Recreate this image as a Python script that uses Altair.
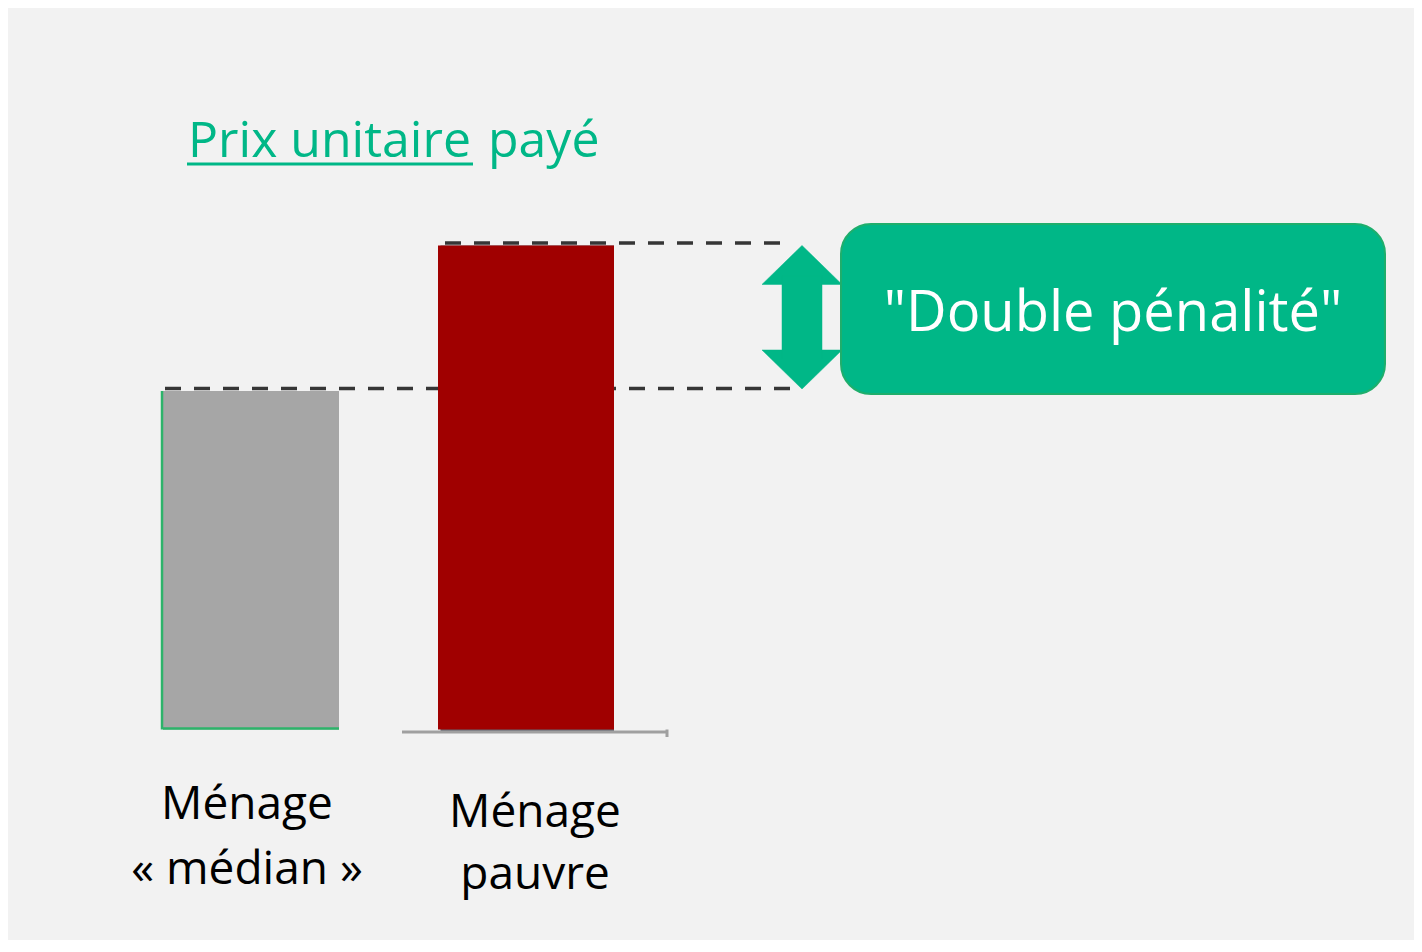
import altair as alt
import pandas as pd

# ---------------- data ----------------
categories = ["Ménage « médian »", "Ménage pauvre"]
values = [100, 143]
bar_colors = ["#a6a6a6", "#a00000"]
label_line1 = ["Ménage", "Ménage"]
label_line2 = ["« médian »", "pauvre"]
title_parts = ["Prix unitaire", "payé"]
callout_text = ["\"Double pénalité\""]

# ---------------- layout (page pixels) ----------------
W, H = 1406, 932
X0, Y0 = 8, 8
BASE_PY = 729.5
PX_PER_UNIT = (729.5 - 391) / values[0]


def v(py):
    return (BASE_PY - py) / PX_PER_UNIT


xs = alt.Scale(domain=[X0, X0 + W], nice=False, zero=False)
ys = alt.Scale(domain=[v(Y0 + H), v(Y0)], nice=False, zero=False)

GREEN = "#00b787"
FONT = "Open Sans"

BAR_LEFT = [163, 438]
BAR_W = 176

bars_df = pd.DataFrame({
    "cat": categories,
    "x1": BAR_LEFT,
    "x2": [l + BAR_W for l in BAR_LEFT],
    "zero": [0, 0],
    "value": values,
    "color": bar_colors,
})


def X(f):
    return alt.X(f, scale=xs, axis=None)


def Y(f):
    return alt.Y(f, scale=ys, axis=None)


# dashed reference lines at the two levels
dash_df = pd.DataFrame({
    "value": [values[1], values[0]],
    "x1": [445, 165],
    "x2": [792, 797],
})
dashes = alt.Chart(dash_df).mark_rule(
    color="#363636", strokeWidth=3.5, strokeDash=[16, 13], yOffset=-2.5
).encode(x=X("x1:Q"), x2="x2:Q", y=Y("value:Q"))

gray_bar = alt.Chart(bars_df.iloc[[0]]).mark_rect().encode(
    x=X("x1:Q"), x2="x2:Q", y=Y("zero:Q"), y2="value:Q",
    color=alt.Color("color:N", scale=None),
)
# thin green edges on the gray bar (left and bottom)
edge_left = alt.Chart(bars_df.iloc[[0]]).mark_rule(
    color="#2db36a", strokeWidth=2.5, xOffset=-1
).encode(x=X("x1:Q"), y=Y("zero:Q"), y2="value:Q")
edge_bottom = alt.Chart(bars_df.iloc[[0]]).mark_rule(
    color="#2db36a", strokeWidth=2.5, yOffset=-1
).encode(x=X("x1:Q"), x2=alt.X2("x2:Q"), y=Y("zero:Q"))

red_shadow = alt.Chart(bars_df.iloc[[1]]).mark_rect(
    color="#4a4f5a", opacity=0.85, xOffset=2.5, yOffset=2
).encode(x=X("x1:Q"), x2="x2:Q", y=Y("zero:Q"), y2="value:Q")
red_bar = alt.Chart(bars_df.iloc[[1]]).mark_rect().encode(
    x=X("x1:Q"), x2="x2:Q", y=Y("zero:Q"), y2="value:Q",
    color=alt.Color("color:N", scale=None),
)

# axis line under the red bar
axis_df = pd.DataFrame({"x1": [402], "x2": [668], "zero": [0]})
axis_line = alt.Chart(axis_df).mark_rule(
    color="#a0a0a0", strokeWidth=3, yOffset=2.5
).encode(x=X("x1:Q"), x2="x2:Q", y=Y("zero:Q"))
axis_tick = alt.Chart(pd.DataFrame({"x": [667], "y1": [0], "y2": [v(737)]})).mark_rule(
    color="#a0a0a0", strokeWidth=3
).encode(x=X("x:Q"), y=Y("y1:Q"), y2="y2:Q")

# double-headed arrow between the two levels
top_lv, low_lv = values[1], v(389)
head = v(245) - v(284)
ax_c, ax_hw, ax_sw = 802, 40, 20
heads_df = pd.DataFrame({
    "g": ["top"] * 3 + ["bottom"] * 3,
    "x": [ax_c - ax_hw, ax_c, ax_c + ax_hw] * 2,
    "ya": [top_lv - head] * 3 + [low_lv + head] * 3,
    "yb": [top_lv - head, top_lv, top_lv - head, low_lv + head, low_lv, low_lv + head],
})
heads = alt.Chart(heads_df).mark_area(color=GREEN, stroke=GREEN, strokeWidth=0.5).encode(
    x=X("x:Q"), y=Y("ya:Q"), y2="yb:Q", detail="g:N"
)
shaft = alt.Chart(pd.DataFrame({"x1": [ax_c - ax_sw], "x2": [ax_c + ax_sw],
                                "y1": [low_lv + head - 2.5], "y2": [top_lv - head + 2.5]})).mark_rect(
    color=GREEN, stroke=GREEN, strokeWidth=0.5
).encode(x=X("x1:Q"), x2="x2:Q", y=Y("y1:Q"), y2="y2:Q")

# callout box
box_df = pd.DataFrame({"x1": [841], "x2": [1385], "y1": [v(394)], "y2": [v(224)],
                       "xc": [1113], "yt": [v(331)], "t": callout_text})
box = alt.Chart(box_df).mark_rect(
    cornerRadius=30, fill=GREEN, stroke="#1fae6c", strokeWidth=2
).encode(x=X("x1:Q"), x2="x2:Q", y=Y("y1:Q"), y2="y2:Q")
box_text = alt.Chart(box_df).mark_text(
    font=FONT, fontSize=56, color="white", align="center", baseline="alphabetic"
).encode(x=X("xc:Q"), y=Y("yt:Q"), text="t:N")

# title
title_df = pd.DataFrame({"t": title_parts, "x": [188, 488], "y": [v(157), v(157)]})
title = alt.Chart(title_df).mark_text(
    font=FONT, fontSize=50, color=GREEN, align="left", baseline="alphabetic"
).encode(x=X("x:Q"), y=Y("y:Q"), text="t:N")
underline = alt.Chart(pd.DataFrame({"x1": [187], "x2": [473], "y": [v(164)]})).mark_rule(
    color=GREEN, strokeWidth=3
).encode(x=X("x1:Q"), x2="x2:Q", y=Y("y:Q"))

# category labels
lab_df = pd.DataFrame({
    "t": label_line1 + label_line2,
    "x": [247, 535, 247, 535],
    "y": [v(819), v(827), v(884), v(889)],
})
labels = alt.Chart(lab_df).mark_text(
    font=FONT, fontSize=46, color="black", align="center", baseline="alphabetic"
).encode(x=X("x:Q"), y=Y("y:Q"), text="t:N")

chart = alt.layer(
    dashes, gray_bar, edge_left, edge_bottom, red_shadow, red_bar,
    axis_line, axis_tick, heads, shaft, box, box_text, title, underline, labels
).properties(
    width=W, height=H, padding=0, background="#f2f2f2",
    autosize=alt.AutoSizeParams(type="none"),
).configure_view(stroke=None)

chart.save("out.html", embed_options={"renderer": "svg", "actions": False})
